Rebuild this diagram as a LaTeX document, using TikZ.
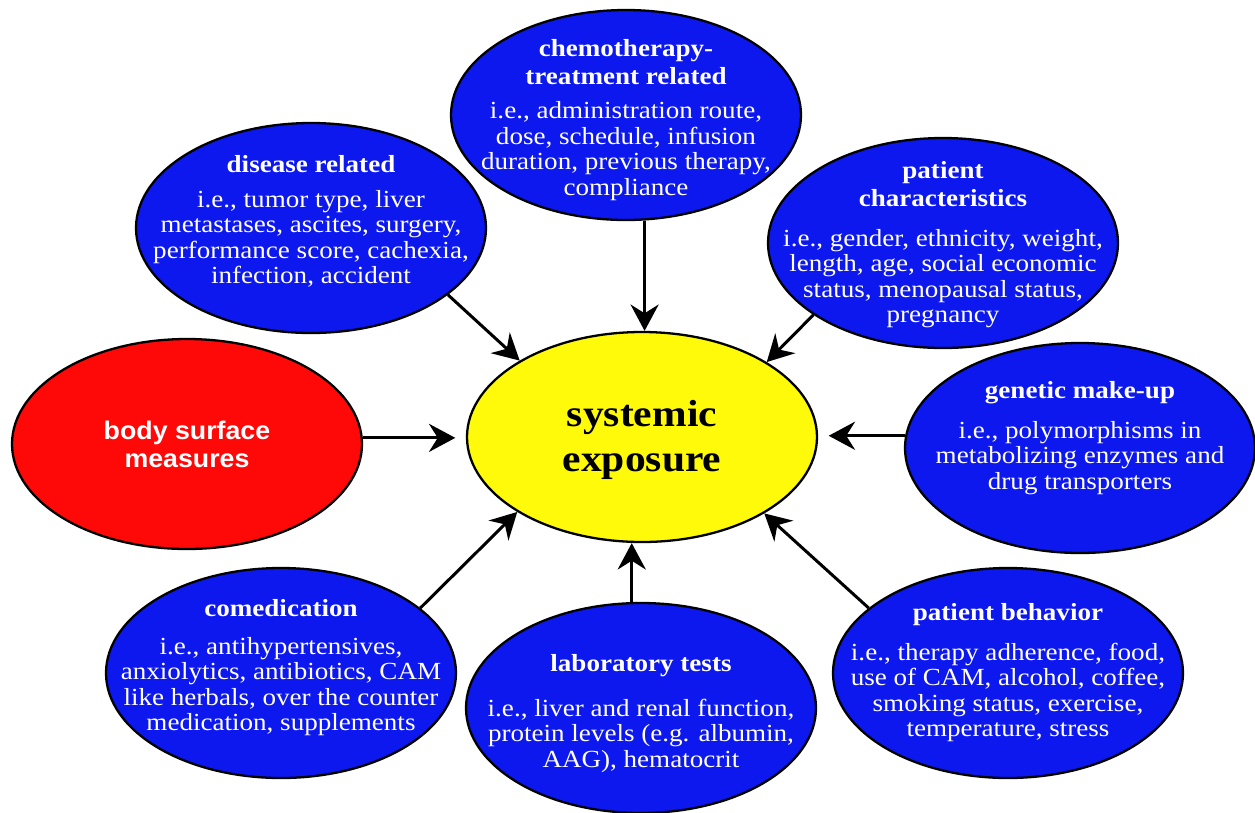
\documentclass[tikz,border=0pt]{standalone}
\usepackage{fontspec}
\setmainfont{Liberation Serif}[FakeStretch=1.1]
\newfontfamily\bodysans{Liberation Sans}[FakeStretch=1.05]
\usetikzlibrary{shapes.geometric,arrows.meta}
\definecolor{blobblue}{RGB}{12,24,238}
\definecolor{blobred}{RGB}{255,8,8}
\definecolor{blobyellow}{RGB}{255,250,10}
\newcommand{\headline}[1]{{\bfseries #1}}
\begin{document}
\begin{tikzpicture}
[
blob/.style={ellipse, draw=black, line width=1.3pt, minimum width=7cm, minimum height=4.2cm, inner sep=0pt},
bluebox/.style={blob, fill=blobblue},
desc/.style={align=center, text=white, font=\fontsize{14}{14.5}\selectfont},
link/.style={line width=1.7pt, -{Stealth[length=15pt,width=16pt,inset=5pt]}}
]
\useasboundingbox (0,0) rectangle (25.1,-16.24);
%Ellipses
\node[bluebox]  (chemo)     at (12.52,-2.30)    {};
\node[bluebox]  (disease)   at (6.22,-4.56)     {};
\node[bluebox]  (patchar)   at (18.86,-4.86)    {};
\node[blob, fill=blobred]    (body)   at (3.74,-8.88)  {};
\node[blob, fill=blobyellow] (sysexp) at (12.84,-8.74) {};
\node[bluebox]  (genetic)   at (21.60,-8.96)    {};
\node[bluebox]  (comed)     at (5.62,-13.46)    {};
\node[bluebox]  (lab)       at (12.82,-14.16)   {};
\node[bluebox]  (behav)     at (20.16,-13.46)   {};

%Texts
\node[desc] (chemotext)   at ([yshift=-1mm]chemo.center)
  {\headline{chemotherapy-}\\[1.5pt]\headline{treatment related}\\[5pt]
   i.e., administration route,\\ dose, schedule, infusion\\ duration, previous therapy,\\ compliance};
\node[desc] (diseasetext) at ([yshift=1.3mm]disease.center)
  {\headline{disease related}\\[5pt]
   i.e., tumor type, liver\\ metastases, ascites, surgery,\\ performance score, cachexia,\\ infection, accident};
\node[desc] (patchartext) at ([yshift=-0.4mm]patchar.center)
  {\headline{patient}\\[1.5pt]\headline{characteristics}\\[8pt]
   i.e., gender, ethnicity, weight,\\ length, age, social economic\\ status, menopausal status,\\ pregnancy};
\node[text=white, align=center, font=\bodysans\bfseries\fontsize{14.5}{16}\selectfont] (bodytext) at (body)
  {body surface\\ measures};
\node[align=center, font=\bfseries\fontsize{21.5}{25.5}\selectfont] (sysexptext) at ([yshift=-0.5mm]sysexp.center)
  {systemic\\ exposure};
\node[desc] (genetictext) at ([yshift=2mm]genetic.center)
  {\headline{genetic make-up}\\[8pt]
   i.e., polymorphisms in\\ metabolizing enzymes and\\ drug transporters};
\node[desc] (comedtext)   at ([yshift=1.1mm]comed.center)
  {\headline{comedication}\\[7pt]
   i.e., antihypertensives,\\ anxiolytics, antibiotics, CAM\\ like herbals, over the counter\\ medication, supplements};
\node[desc] (labtext)     at ([yshift=-1.1mm]lab.center)
  {\headline{laboratory tests}\\[11pt]
   i.e., liver and renal function,\\ protein levels (e.g. albumin,\\ AAG), hematocrit};
\node[desc] (behavtext)   at (behav)
  {\headline{patient behavior}\\[8pt]
   i.e., therapy adherence, food,\\ use of CAM, alcohol, coffee,\\ smoking status, exercise,\\ temperature, stress};

%Arrows
\draw[link] (chemo.-80) -- (chemo.-80 |- sysexp.north);
\draw[link] (disease.-26.7) -- (sysexp.148.8);
\draw[link] (patchar.209.5) -- (sysexp.31.8);
\draw[link, shorten >=6pt] (body.2) -- (body.2 -| sysexp.west);
\draw[link, shorten >=6pt] (genetic.176.7) -- (genetic.176.7 -| sysexp.east);
\draw[link] (comed.25.5) -- (sysexp.211.5);
\draw[link] (lab.95) -- (lab.95 |- sysexp.south);
\draw[link] (behav.155.2) -- (sysexp.-32);
\end{tikzpicture}
\end{document}
